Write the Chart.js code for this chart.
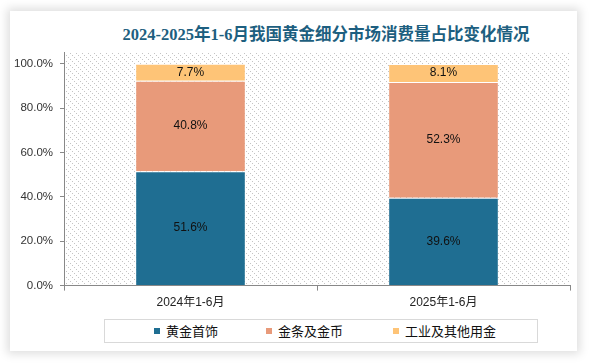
<!DOCTYPE html>
<html>
<head>
<meta charset="utf-8">
<script src="https://cdn.jsdelivr.net/npm/chart.js@4.4.1/dist/chart.umd.min.js"></script>
<style>
  html, body { margin: 0; padding: 0; background: #fff; }
  body { width: 589px; height: 363px; position: relative; overflow: hidden; }
  #card {
    position: absolute; left: 10px; top: 11px; width: 567px; height: 340px;
    background: #fff; box-shadow: 0 0 9px 3px rgba(0,0,0,0.13);
  }
  #title {
    position: absolute; left: 0; top: 10px; width: 632px; text-align: center;
    font: bold 16.5px "Liberation Serif", "Noto Sans CJK SC", serif;
    color: #1d5f80; white-space: nowrap;
  }
  #chart-wrap { position: absolute; left: 0; top: 0; width: 567px; height: 306px; }
  #legend {
    position: absolute; left: 94px; top: 308px; width: 432px; height: 22px;
    border: 1px solid #d9d9d9; font: 13px "Noto Sans CJK SC", sans-serif; color: #111;
  }
  #legend span { position: absolute; top: 2px; line-height: 18px; white-space: nowrap; }
  #legend i { display: inline-block; width: 6px; height: 6px; margin-right: 6px; vertical-align: 2px; }
</style>
</head>
<body>
<div id="card">
  <div id="title">2024-2025年1-6月我国黄金细分市场消费量占比变化情况</div>
  <div id="chart-wrap"><canvas id="share-chart"></canvas></div>
  <div id="legend"></div>
</div>
<script>
// data
const periods = ['2024年1-6月', '2025年1-6月'];
const seriesNames = ['黄金首饰', '金条及金币', '工业及其他用金'];
const jewelry = [51.6, 39.6];
const barsCoins = [40.8, 52.3];
const industrial = [7.7, 8.1];
const yTicks = [0, 20, 40, 60, 80, 100];

const colors = ['#1f6e92', '#e89a7a', '#fec477'];
const fontFamily = "'Liberation Sans', 'Noto Sans CJK SC', sans-serif";

Chart.defaults.font.family = fontFamily;
Chart.defaults.color = '#333';

// legend below the chart
const legendX = [49, 161, 288];
const legendEl = document.getElementById('legend');
seriesNames.forEach((name, i) => {
  const s = document.createElement('span');
  s.style.left = legendX[i] + 'px';
  s.innerHTML = '<i style="background:' + colors[i] + '"></i>' + name;
  legendEl.appendChild(s);
});

// dotted diagonal hatch for the plot background
function makeHatch() {
  const c = document.createElement('canvas');
  c.width = 6; c.height = 6;
  const g = c.getContext('2d');
  g.fillStyle = '#c4c4c4';
  [0, 2, 4].forEach(i => g.fillRect(i, i, 1, 1));
  return c;
}

const hatchPlugin = {
  id: 'hatch',
  beforeDraw(chart) {
    const { ctx, chartArea: a } = chart;
    ctx.save();
    ctx.fillStyle = ctx.createPattern(makeHatch(), 'repeat');
    ctx.fillRect(a.left, a.top, a.right - a.left, a.bottom - a.top);
    ctx.restore();
  }
};

const valueLabels = {
  id: 'valueLabels',
  afterDatasetsDraw(chart) {
    const ctx = chart.ctx;
    ctx.save();
    ctx.font = '12px ' + fontFamily;
    ctx.fillStyle = '#111';
    ctx.textAlign = 'center';
    ctx.textBaseline = 'middle';
    chart.data.datasets.forEach((ds, i) => {
      chart.getDatasetMeta(i).data.forEach((bar, j) => {
        const y = (bar.y + bar.base) / 2;
        ctx.fillText(ds.data[j].toFixed(1) + '%', bar.x, y);
      });
    });
    ctx.restore();
  }
};

new Chart(document.getElementById('share-chart'), {
  type: 'bar',
  data: {
    labels: periods,
    datasets: [
      { label: seriesNames[0], data: jewelry, backgroundColor: colors[0] },
      { label: seriesNames[1], data: barsCoins, backgroundColor: colors[1] },
      { label: seriesNames[2], data: industrial, backgroundColor: colors[2] }
    ].map(d => Object.assign(d, {
      borderColor: '#fff',
      borderWidth: { top: 1, bottom: 0, left: 0, right: 0 },
      borderSkipped: false,
      categoryPercentage: 1,
      barPercentage: 0.43
    }))
  },
  options: {
    responsive: true,
    maintainAspectRatio: false,
    animation: false,
    layout: { padding: { top: 41, right: 7, left: 0, bottom: 2 } },
    plugins: {
      title: { display: false },
      tooltip: { enabled: false },
      legend: { display: false }
    },
    scales: {
      x: {
        stacked: true,
        border: { color: '#888', width: 1 },
        grid: { display: true, drawOnChartArea: false, offset: true, tickLength: 5, color: '#888' },
        ticks: { color: '#222', font: { size: 12 }, padding: 5 }
      },
      y: {
        stacked: true,
        min: 0,
        max: 105.4,
        afterBuildTicks(scale) {
          scale.ticks = yTicks.map(v => ({ value: v }));
        },
        afterFit(scale) { scale.width = 54; },
        border: { color: '#888', width: 1 },
        grid: { display: true, drawOnChartArea: false, tickLength: 4, color: '#888' },
        ticks: {
          color: '#333',
          font: { size: 11.5 },
          padding: 7,
          callback: v => v.toFixed(1) + '%'
        }
      }
    }
  },
  plugins: [hatchPlugin, valueLabels]
});
</script>
</body>
</html>
